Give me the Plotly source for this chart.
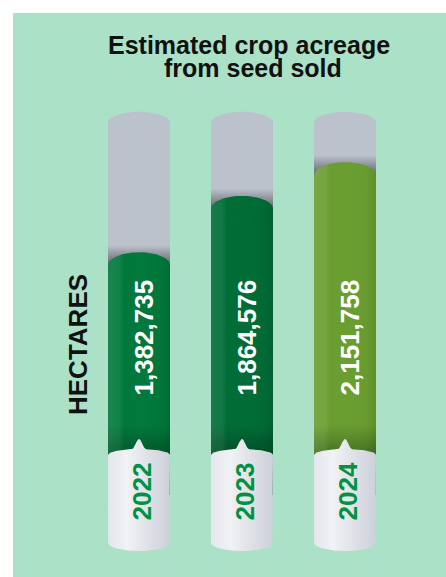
import numpy as np
import plotly.graph_objects as go

# ---------------- data ----------------
years = ["2022", "2023", "2024"]
hectares = [1382735, 1864576, 2151758]
bar_colors = ["#00783c", "#006c36", "#6a9e30"]
scale_max = 2600000          # full height of the grey "tube"
title_lines = ["Estimated crop acreage", "from seed sold"]
axis_label = "HECTARES"

# ---------------- layout / geometry ----------------
W, H = 446, 577
ML, MT = 13, 13
PANEL = "#aae1c7"
GREY = "#bcc2cc"
U = 8547.0                 # data units per vertical pixel
XPX = 1 / 103.0            # x units per horizontal pixel
ZERO_PX = 427              # absolute pixel row of value 0
X0_PX = 139                # absolute pixel column of first tube centre
HW = 31 * XPX              # half width of a tube

y_range = [-(H - ZERO_PX) * U, (ZERO_PX - MT) * U]
x_range = [-(X0_PX - ML) * XPX, (W - X0_PX) * XPX]

xpos = list(range(len(years)))

fig = go.Figure()

# grey background tubes (full scale)
fig.add_trace(go.Bar(x=xpos, y=[scale_max] * len(years), base=0, width=2 * HW,
                     marker=dict(color=GREY, line=dict(width=0)), hoverinfo="skip"))
# green bars
cap_side_top = -28 * U
fig.add_trace(go.Bar(x=xpos, y=[v - cap_side_top + 40 * U for v in hectares],
                     base=cap_side_top - 40 * U, width=2 * HW,
                     marker=dict(color=bar_colors, line=dict(width=0)),
                     hoverinfo="skip"))

shapes = []
for i in xpos:
    shapes.append(dict(type="circle", layer="below", xref="x", yref="y",
                       x0=i - HW, x1=i + HW, y0=scale_max - 11 * U, y1=scale_max + 11 * U,
                       fillcolor=GREY, line=dict(width=0)))

DOME = 13 * U
for i, v in enumerate(hectares):
    # shadow on grey just above the green top
    fig.add_trace(go.Scatter(
        x=[i - HW, i + HW, i + HW, i - HW, i - HW],
        y=[v, v, v + 20 * U, v + 20 * U, v],
        mode="lines", line=dict(width=0), fill="toself",
        fillgradient=dict(type="vertical",
                          colorscale=[[0, "rgba(30,34,42,0.6)"], [1, "rgba(30,34,42,0)"]]),
        hoverinfo="skip"))
    # dome (top ellipse of the green column)
    t = np.linspace(0, 2 * np.pi, 80)
    fig.add_trace(go.Scatter(
        x=i + HW * np.cos(t), y=v + DOME * np.sin(t),
        mode="lines", line=dict(width=0), fill="toself", fillcolor=bar_colors[i],
        hoverinfo="skip"))
    # darkening at the bottom of the green, near the cap
    fig.add_trace(go.Scatter(
        x=[i - HW, i + HW, i + HW, i - HW, i - HW],
        y=[cap_side_top - 5 * U, cap_side_top - 5 * U, cap_side_top + 30 * U,
           cap_side_top + 30 * U, cap_side_top - 5 * U],
        mode="lines", line=dict(width=0), fill="toself",
        fillgradient=dict(type="vertical",
                          colorscale=[[0, "rgba(0,30,10,0.42)"], [1, "rgba(0,30,10,0)"]]),
        hoverinfo="skip"))
    # cylindrical shading over green body + dome
    ta = np.linspace(0, np.pi, 40)
    bx = [i - HW, i + HW] + list(i + HW * np.cos(ta)) + [i - HW]
    by = [cap_side_top - 40 * U] * 2 + list(v + DOME * np.sin(ta)) + [cap_side_top - 40 * U]
    fig.add_trace(go.Scatter(
        x=bx, y=by, mode="lines", line=dict(width=0), fill="toself",
        fillgradient=dict(type="horizontal",
                          colorscale=[[0, "rgba(255,255,255,0.10)"],
                                      [0.18, "rgba(255,255,255,0.07)"],
                                      [0.26, "rgba(255,255,255,0)"],
                                      [0.85, "rgba(0,0,0,0.02)"],
                                      [1, "rgba(0,0,0,0.10)"]]),
        hoverinfo="skip"))
    # white cap with nipple
    dx = np.linspace(-HW, HW, 121)
    nip_w = 7 * XPX
    nip = np.where(np.abs(dx) < nip_w, 10 * U * np.cos(np.pi * dx / (2 * nip_w)) ** 2, 0)
    top_y = cap_side_top + 6 * U * np.sqrt(np.clip(1 - (dx / HW) ** 2, 0, 1)) + nip
    cap_side_bot = -116 * U
    tb = np.linspace(0, np.pi, 50)
    cx = list(i + dx) + list(i + HW * np.cos(tb)) + [i - HW]
    cy = list(top_y) + list(cap_side_bot - 8 * U * np.sin(tb)) + [top_y[0]]
    fig.add_trace(go.Scatter(
        x=cx, y=cy, mode="lines", line=dict(width=0), fill="toself",
        fillgradient=dict(type="horizontal",
                          colorscale=[[0, "#e3e6eb"], [0.3, "#f1f2f5"], [1, "#ccd0d8"]]),
        hoverinfo="skip"))

annotations = []
FONT = "Liberation Sans, Arial, sans-serif"
for i, v in enumerate(hectares):
    annotations.append(dict(x=i + 4.5 * XPX, y=89 * U, xref="x", yref="y",
                            text="<b>%s</b>" % f"{v:,}", textangle=-90, showarrow=False,
                            font=dict(family=FONT, size=26, color="white"),
                            xanchor="center", yanchor="middle"))
    annotations.append(dict(x=i + 2.5 * XPX, y=-65 * U, xref="x", yref="y",
                            text="<b>%s</b>" % years[i], textangle=-90, showarrow=False,
                            font=dict(family=FONT, size=26, color="#009244"),
                            xanchor="center", yanchor="middle"))
annotations.append(dict(x=(78 - X0_PX) * XPX, y=82 * U, xref="x", yref="y",
                        text="<b>%s</b>" % axis_label, textangle=-90, showarrow=False,
                        font=dict(family=FONT, size=26, color="#111111"),
                        xanchor="center", yanchor="middle"))
annotations.append(dict(x=(248.5 - X0_PX) * XPX, y=(ZERO_PX - 44.5) * U, xref="x", yref="y",
                        text="<b>%s</b>" % title_lines[0], showarrow=False,
                        font=dict(family=FONT, size=25, color="#111111"),
                        xanchor="center", yanchor="middle"))
annotations.append(dict(x=(252.5 - X0_PX) * XPX, y=(ZERO_PX - 67.5) * U, xref="x", yref="y",
                        text="<b>%s</b>" % title_lines[1], showarrow=False,
                        font=dict(family=FONT, size=25, color="#111111"),
                        xanchor="center", yanchor="middle"))

fig.update_layout(
    width=W, height=H,
    margin=dict(l=ML, t=MT, r=0, b=0, pad=0),
    paper_bgcolor="white", plot_bgcolor=PANEL,
    barmode="overlay", bargap=0, showlegend=False,
    xaxis=dict(range=x_range, visible=False, fixedrange=True),
    yaxis=dict(range=y_range, visible=False, fixedrange=True),
    shapes=shapes, annotations=annotations,
)

fig.write_html("out.html", post_script="document.body.style.margin='0px';",
               config={"displayModeBar": False})
